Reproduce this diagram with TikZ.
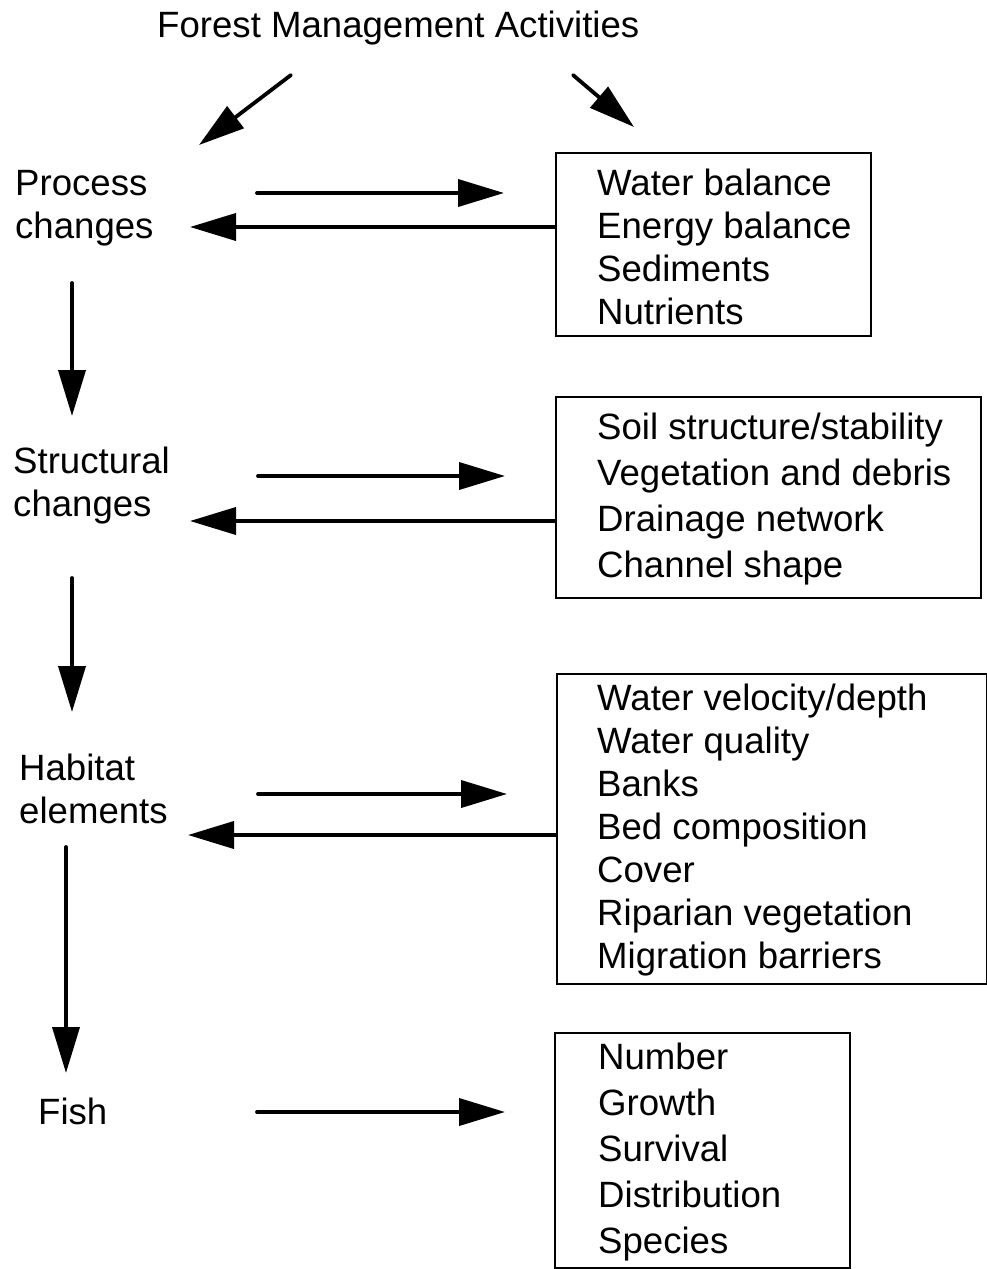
\documentclass[tikz,border=0pt]{standalone}
\usepackage{fontspec}
\setmainfont{Liberation Sans}
\usetikzlibrary{arrows.meta}
\newcommand\tstrut{\rule{0pt}{30pt}}
\begin{document}
\begin{tikzpicture}[x=1pt,y=-1pt,
  txt/.style={font=\fontsize{36.6}{43}\selectfont, align=left, inner sep=0pt, anchor=north west},
  wide/.style={font=\fontsize{36.6}{46}\selectfont},
  box/.style={draw, line width=2pt, anchor=north west, inner sep=0pt},
  arr/.style={line width=3.8pt, line cap=round, -{Triangle[length=46pt,width=27pt]}}]
\useasboundingbox (0,0) rectangle (987,1269);

% title
\node[txt, anchor=base west] (title) at (157,37) {Forest Management Activities};

% left labels
\node[txt] (proc) at (15,165) {\tstrut Process\\changes};
\node[txt] (struc) at (13,443) {\tstrut Structural\\changes};
\node[txt] (hab) at (19,750) {\tstrut Habitat\\elements};
\node[txt] (fish) at (38,1094) {\tstrut Fish};

% boxes
\node[box, minimum width=315pt, minimum height=183pt] (b1) at (555,152) {};
\node[box, minimum width=425pt, minimum height=201pt] (b2) at (555,396) {};
\node[box, minimum width=430pt, minimum height=310pt] (b3) at (556,673) {};
\node[box, minimum width=295pt, minimum height=235pt] (b4) at (554,1032) {};

% box texts
\node[txt] (t1) at (597,165) {\tstrut Water balance\\Energy balance\\Sediments\\Nutrients};
\node[txt, wide] (t2) at (597,409) {\tstrut Soil structure/stability\\Vegetation and debris\\Drainage network\\Channel shape};
\node[txt] (t3) at (597,680) {\tstrut Water velocity/depth\\Water quality\\Banks\\Bed composition\\Cover\\Riparian vegetation\\Migration barriers};
\node[txt, wide] (t4) at (598,1039) {\tstrut Number\\Growth\\Survival\\Distribution\\Species};

% connector end points
\coordinate (ta1) at (291,75);  \coordinate (ta2) at (199,145);
\coordinate (tb1) at (573,75);  \coordinate (tb2) at (634,127);
\coordinate (r1a) at (257,193); \coordinate (r1b) at (504,193);
\coordinate (l1a) at (555,227); \coordinate (l1b) at (190,227);
\coordinate (d1a) at (72,283);  \coordinate (d1b) at (72,416);
\coordinate (r2a) at (258,476); \coordinate (r2b) at (505,476);
\coordinate (l2a) at (555,521); \coordinate (l2b) at (190,521);
\coordinate (d2a) at (72,578);  \coordinate (d2b) at (72,712);
\coordinate (r3a) at (258,794); \coordinate (r3b) at (507,794);
\coordinate (l3a) at (556,835); \coordinate (l3b) at (188,835);
\coordinate (d3a) at (66,847);  \coordinate (d3b) at (66,1073);
\coordinate (r4a) at (257,1112); \coordinate (r4b) at (505,1112);

% connectors
\draw[arr] (ta1) -- (ta2);
\draw[arr] (tb1) -- (tb2);
\draw[arr] (r1a) -- (r1b);
\draw[arr, line cap=butt] (l1a) -- (l1b);
\draw[arr] (d1a) -- (d1b);
\draw[arr] (r2a) -- (r2b);
\draw[arr, line cap=butt] (l2a) -- (l2b);
\draw[arr] (d2a) -- (d2b);
\draw[arr] (r3a) -- (r3b);
\draw[arr, line cap=butt] (l3a) -- (l3b);
\draw[arr] (d3a) -- (d3b);
\draw[arr] (r4a) -- (r4b);
\end{tikzpicture}
\end{document}
